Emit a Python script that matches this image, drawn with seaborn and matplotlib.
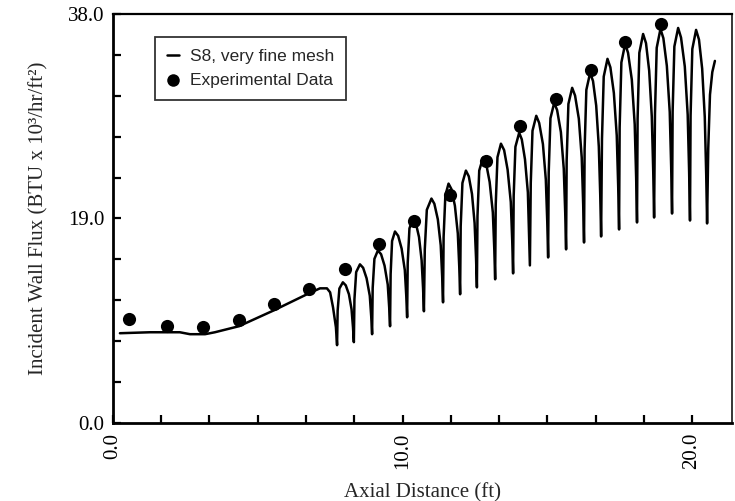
import matplotlib
matplotlib.use("Agg")
import matplotlib.pyplot as plt
import seaborn as sns
import pandas as pd
from matplotlib.ticker import MultipleLocator, FixedLocator

# ---------------- data ----------------
curve_x = [0.24, 1.28, 2.31, 2.66, 3.18, 3.52, 4.35, 5.56, 6.77, 7.15, 7.39, 7.50, 7.60, 7.70, 7.74,
           7.76, 7.82, 7.94, 8.04, 8.15, 8.24, 8.29, 8.32,
           8.34, 8.40, 8.53, 8.64, 8.76, 8.87, 8.92, 8.95,
           8.97, 9.03, 9.15, 9.26, 9.38, 9.49, 9.54, 9.57,
           9.59, 9.64, 9.74, 9.85, 9.97, 10.08, 10.13, 10.16,
           10.18, 10.24, 10.36, 10.46, 10.57, 10.66, 10.71, 10.74,
           10.77, 10.84, 11.00, 11.10, 11.22, 11.32, 11.37, 11.40,
           11.42, 11.48, 11.59, 11.69, 11.81, 11.91, 11.96, 11.99,
           12.01, 12.07, 12.19, 12.29, 12.40, 12.49, 12.54, 12.57,
           12.59, 12.65, 12.78, 12.89, 13.01, 13.12, 13.17, 13.20,
           13.22, 13.28, 13.40, 13.51, 13.63, 13.74, 13.79, 13.82,
           13.84, 13.90, 14.03, 14.12, 14.23, 14.33, 14.37, 14.40,
           14.43, 14.49, 14.62, 14.72, 14.85, 14.95, 15.00, 15.03,
           15.05, 15.11, 15.24, 15.34, 15.47, 15.57, 15.62, 15.65,
           15.67, 15.73, 15.86, 15.96, 16.09, 16.19, 16.24, 16.27,
           16.29, 16.35, 16.48, 16.58, 16.69, 16.78, 16.83, 16.86,
           16.89, 16.95, 17.08, 17.18, 17.30, 17.40, 17.45, 17.48,
           17.50, 17.56, 17.69, 17.79, 17.92, 18.02, 18.07, 18.10,
           18.12, 18.18, 18.31, 18.41, 18.52, 18.61, 18.66, 18.69,
           18.72, 18.78, 18.91, 19.01, 19.13, 19.23, 19.28, 19.31,
           19.33, 19.39, 19.52, 19.62, 19.75, 19.85, 19.90, 19.93,
           19.95, 20.01, 20.14, 20.24, 20.35, 20.44, 20.49, 20.52,
           20.56, 20.62, 20.70, 20.79]
curve_y = [8.34, 8.43, 8.43, 8.25, 8.25, 8.43, 8.99, 10.47, 12.05, 12.51, 12.51, 12.14, 10.75, 8.90, 7.23,
           10.44, 12.49, 13.07, 12.79, 11.96, 10.57, 8.90, 7.51,
           11.49, 14.02, 14.74, 14.42, 13.44, 11.82, 9.87, 8.25,
           12.53, 15.25, 16.03, 15.68, 14.62, 12.86, 10.75, 8.99,
           13.83, 16.91, 17.79, 17.39, 16.20, 14.20, 11.81, 9.82,
           14.87, 18.08, 19.00, 18.57, 17.28, 15.12, 12.53, 10.38,
           16.14, 19.80, 20.85, 20.37, 18.92, 16.51, 13.62, 11.21,
           17.28, 21.14, 22.24, 21.73, 20.18, 17.61, 14.53, 11.96,
           18.28, 22.30, 23.45, 22.91, 21.28, 18.57, 15.31, 12.60,
           19.23, 23.45, 24.65, 24.08, 22.39, 19.56, 16.17, 13.35,
           20.28, 24.69, 25.95, 25.35, 23.54, 20.53, 16.91, 13.90,
           21.09, 25.66, 26.97, 26.35, 24.50, 21.42, 17.72, 14.64,
           22.29, 27.15, 28.54, 27.88, 25.91, 22.62, 18.67, 15.38,
           23.28, 28.31, 29.75, 29.07, 27.03, 23.62, 19.53, 16.13,
           24.39, 29.64, 31.14, 30.42, 28.27, 24.67, 20.36, 16.77,
           25.44, 30.95, 32.53, 31.77, 29.49, 25.69, 21.13, 17.33,
           26.41, 32.18, 33.83, 33.04, 30.66, 26.70, 21.94, 17.98,
           27.46, 33.50, 35.22, 34.39, 31.90, 27.75, 22.78, 18.63,
           28.26, 34.39, 36.14, 35.29, 32.73, 28.47, 23.35, 19.09,
           28.73, 34.86, 36.61, 35.75, 33.18, 28.89, 23.75, 19.46,
           28.94, 34.98, 36.70, 35.81, 33.12, 28.65, 23.28, 18.81,
           28.55, 34.75, 36.52, 35.62, 32.92, 28.43, 23.03, 18.54,
           25.5, 30.5, 32.6, 33.64]

exp_x = [0.55, 1.87, 3.11, 4.35, 5.56, 6.77, 8.01, 9.19, 10.40, 11.64,
         12.88, 14.06, 15.30, 16.51, 17.69, 18.93]
exp_y = [9.64, 8.99, 8.90, 9.55, 11.03, 12.42, 14.27, 16.59, 18.81, 21.22,
         24.37, 27.62, 30.12, 32.81, 35.40, 37.07]

x_tick_values = [0.0, 10.0, 20.0]
x_tick_labels = ["0.0", "10.0", "20.0"]
y_tick_values = [0.0, 19.0, 38.0]
y_tick_labels = ["0.0", "19.0", "38.0"]

line_label = "S8, very fine mesh"
dots_label = "Experimental Data"
x_title = "Axial Distance (ft)"
y_title = "Incident Wall Flux (BTU x 10\u00b3/hr/ft\u00b2)"

# ---------------- plotting ----------------
sns.set_theme(style="ticks")
plt.rcParams["font.family"] = ["Liberation Serif", "DejaVu Serif"]

curve_df = pd.DataFrame({"x": curve_x, "y": curve_y})
exp_df = pd.DataFrame({"x": exp_x, "y": exp_y})

fig = plt.figure(figsize=(7.35, 5.01), dpi=100)
ax = fig.add_axes([0.1537, 0.1557, 0.8422, 0.8164])

sns.lineplot(data=curve_df, x="x", y="y", sort=False, estimator=None, ax=ax,
             color="black", linewidth=1.8, label=line_label)
sns.scatterplot(data=exp_df, x="x", y="y", ax=ax, color="black", s=90,
                edgecolor="black", linewidth=0, label=dots_label, zorder=3)

ax.set_xlim(0, 21.38)
ax.set_ylim(0, 38.0)

ax.xaxis.set_major_locator(FixedLocator(x_tick_values))
ax.set_xticklabels(x_tick_labels, rotation=90)
ax.xaxis.set_minor_locator(MultipleLocator(10 / 6))
ax.yaxis.set_major_locator(FixedLocator(y_tick_values))
ax.set_yticklabels(y_tick_labels)
ax.yaxis.set_minor_locator(MultipleLocator(3.8))

ax.tick_params(axis="both", which="both", direction="in", length=6, width=1.6,
               colors="black", labelsize=15)
ax.tick_params(axis="x", which="major", pad=7)
ax.tick_params(axis="y", which="major", pad=6)

for side, lw in {"left": 2.0, "bottom": 2.0, "top": 1.6, "right": 1.1}.items():
    ax.spines[side].set_visible(True)
    ax.spines[side].set_linewidth(lw)
    ax.spines[side].set_color("black")

ax.set_xlabel(x_title, fontsize=15, labelpad=10)
ax.set_ylabel(y_title, fontsize=15, labelpad=14)

leg = ax.legend(loc="upper left", bbox_to_anchor=(0.068, 0.944), borderaxespad=0,
                frameon=True, fancybox=False, handlelength=0.7, handletextpad=0.6,
                borderpad=0.7, labelspacing=0.5, markerscale=0.95,
                prop={"family": "Liberation Sans", "size": 12.5})
leg.get_frame().set_edgecolor("black")
leg.get_frame().set_linewidth(1.3)

fig.savefig("out.png", dpi=100)
